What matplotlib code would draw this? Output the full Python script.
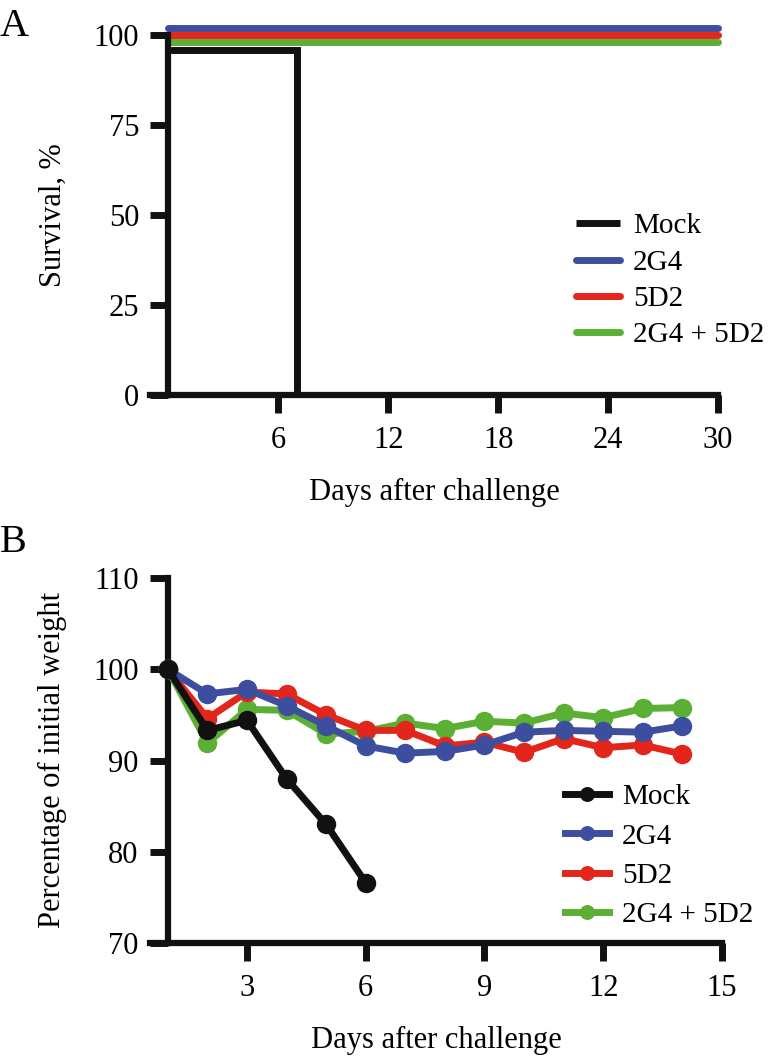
import matplotlib
matplotlib.use("Agg")
import matplotlib.pyplot as plt
import matplotlib.transforms as mtransforms

plt.rcParams['font.family'] = ['Liberation Serif', 'DejaVu Serif']

# panel A - survival
groups = ["Mock", "2G4", "5D2", "2G4 + 5D2"]
mock_days = [0, 7, 7]
mock_surv = [100, 100, 0]
trt_days = [0, 30]
trt_surv = [100, 100]

# panel B - weight
w_days = list(range(1, 15))
mock_w_days = list(range(1, 7))
mock_w = [100, 93.3, 94.4, 88.0, 83.0, 76.6]
g2_w = [100, 97.3, 97.8, 96.0, 93.8, 91.6, 90.8, 91.0, 91.7, 93.1, 93.3, 93.2, 93.1, 93.8]
d5_w = [100, 94.6, 97.5, 97.3, 95.0, 93.3, 93.3, 91.6, 92.0, 90.9, 92.4, 91.4, 91.7, 90.7]
combo_w = [100, 91.9, 95.6, 95.5, 92.9, 93.2, 94.1, 93.5, 94.3, 94.1, 95.2, 94.7, 95.7, 95.8]

cols = {"Mock": "#111111", "2G4": "#3E4E9F", "5D2": "#E3261B", "2G4 + 5D2": "#5BAF33"}

W, H = 776, 1058
fig = plt.figure(figsize=(W / 100, H / 100), dpi=100)

fs = 22
lw = 5
spw = 4.5


def style(ax):
    for s in ["top", "right"]:
        ax.spines[s].set_visible(False)
    for s in ["left", "bottom"]:
        ax.spines[s].set_linewidth(spw)
        ax.spines[s].set_color("#111111")
    ax.tick_params(axis="both", direction="out", width=5, length=13,
                   labelsize=fs, color="#111111")
    ax.tick_params(axis="y", pad=8)
    ax.tick_params(axis="x", pad=9)


# ---- A ----
ax1 = fig.add_axes([150 / W, 1 - 395 / H, 568 / W, 360 / H])
ax1.set_xlim(-1, 30)
ax1.set_ylim(0, 100)
style(ax1)
ax1.spines["left"].set_position(("data", 0))
ax1.spines["left"].set_bounds(0, 100)
ax1.set_xticks([6, 12, 18, 24, 30])
ax1.set_yticks([0, 25, 50, 75, 100])

offs = {"Mock": -10.5, "2G4": 5, "5D2": 0, "2G4 + 5D2": -5}
hA = []
for g in ["2G4 + 5D2", "5D2", "2G4"]:
    tr = mtransforms.offset_copy(ax1.transData, fig=fig, x=0, y=offs[g], units="points")
    l, = ax1.plot(trt_days, trt_surv, color=cols[g], lw=lw, transform=tr,
                  solid_capstyle="round", clip_on=False, label=g)
    hA.append(l)
tr = mtransforms.offset_copy(ax1.transData, fig=fig, x=0, y=offs["Mock"], units="points")
lm, = ax1.plot(mock_days, mock_surv, color=cols["Mock"], lw=lw, transform=tr,
               solid_capstyle="butt", solid_joinstyle="miter", label="Mock", zorder=1)
hA.append(lm)
hA = hA[::-1]
ax1.set_xlabel("Days after challenge", fontsize=fs, labelpad=17)
ax1.set_ylabel("Survival, %", fontsize=fs)
ax1.yaxis.set_label_coords(-0.145, 0.5)
ax1.legend(handles=hA, labels=groups, loc="upper left", frameon=False, fontsize=21,
           bbox_to_anchor=(576 / W, 1 - 213 / H), bbox_transform=fig.transFigure,
           borderpad=0, borderaxespad=0, handlelength=1.5, handletextpad=0.45,
           labelspacing=0.34)

# ---- B ----
ax2 = fig.add_axes([150 / W, 1 - 943 / H, 572 / W, 365 / H])
ax2.set_xlim(0.55, 15)
ax2.set_ylim(70, 110)
style(ax2)
ax2.spines["left"].set_position(("data", 1))
ax2.set_xticks([3, 6, 9, 12, 15])
ax2.set_yticks([70, 80, 90, 100, 110])

ms = 13
kw = dict(lw=lw, marker="o", markersize=ms, clip_on=False)
lc, = ax2.plot(w_days, combo_w, color=cols["2G4 + 5D2"], zorder=3, **kw)
ld, = ax2.plot(w_days, d5_w, color=cols["5D2"], zorder=4, **kw)
lg, = ax2.plot(w_days, g2_w, color=cols["2G4"], zorder=5, **kw)
lk, = ax2.plot(mock_w_days, mock_w, color=cols["Mock"], zorder=6, **kw)
ax2.set_xlabel("Days after challenge", fontsize=fs, labelpad=17)
ax2.set_ylabel("Percentage of initial weight", fontsize=fs)
ax2.yaxis.set_label_coords(-0.145, 0.5)
ax2.legend(handles=[lk, lg, ld, lc], labels=groups, loc="upper left", frameon=False,
           fontsize=21, bbox_to_anchor=(565 / W, 1 - 784 / H),
           bbox_transform=fig.transFigure, borderpad=0, borderaxespad=0,
           handlelength=1.5, handletextpad=0.45, labelspacing=0.44, markerscale=0.75)

fig.text(0 / W, 1 - 36 / H, "A", fontsize=29, ha="left", va="baseline")
fig.text(0 / W, 1 - 552 / H, "B", fontsize=29, ha="left", va="baseline")

fig.savefig("out.png", dpi=100, facecolor="white")
